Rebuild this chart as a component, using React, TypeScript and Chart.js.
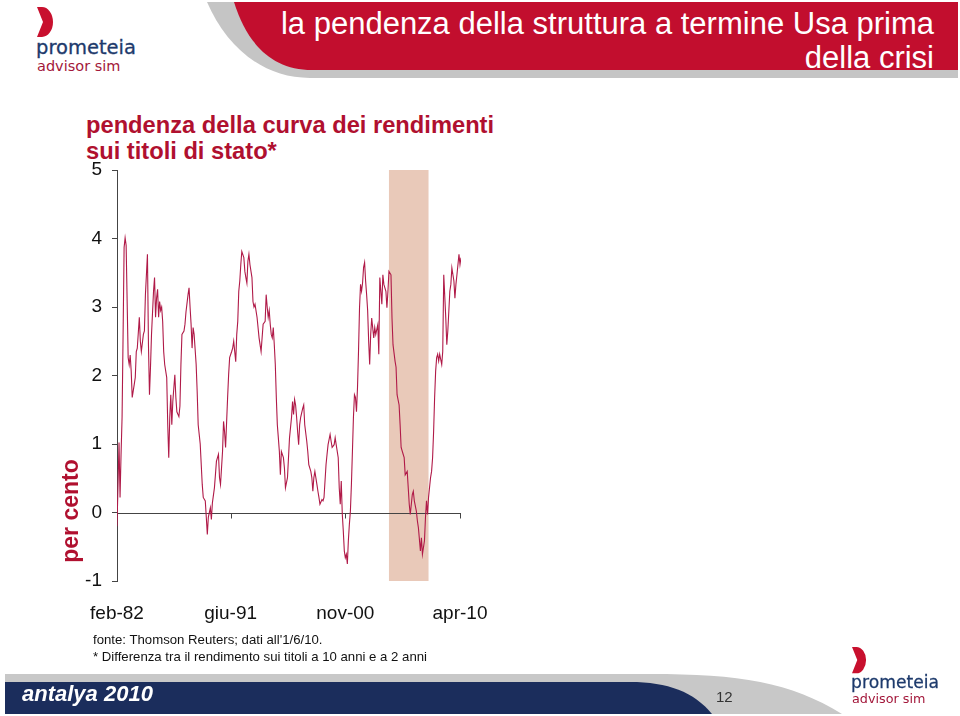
import React, { useEffect, useRef } from "react";
import { Chart, registerables } from "chart.js";

Chart.register(...registerables);

// Months elapsed since February 1982 (x) and the 10y-2y US Treasury spread, % (y)
const monthsSinceFeb82 = [
  0, 2, 3, 4, 5, 6, 7, 8, 9, 11, 12, 13, 14, 15, 17, 18, 19, 20, 22, 23, 24, 26, 27, 28, 30, 31, 32, 33, 34, 36,
  37, 38, 39, 40, 41, 42, 43, 44, 45, 46, 47, 49, 50, 51, 52, 53, 54, 55, 57, 58, 59, 61, 62, 63, 64, 66, 67, 68, 70, 71,
  72, 73, 74, 75, 76, 78, 79, 80, 82, 84, 85, 87, 88, 89, 90, 92, 93, 94, 96, 97, 98, 100, 101, 102, 104, 105, 106, 107, 109, 110,
  111, 113, 114, 115, 116, 117, 118, 119, 120, 121, 122, 123, 125, 126, 127, 128, 129, 130, 131, 133, 134, 135, 136, 138, 139, 140, 142, 143, 144, 146,
  147, 148, 149, 150, 151, 152, 153, 154, 155, 156, 157, 158, 159, 160, 161, 162, 164, 165, 166, 168, 169, 170, 172, 173, 174, 175, 176, 177, 178, 179,
  180, 181, 183, 184, 185, 187, 188, 189, 191, 192, 193, 194, 195, 197, 198, 199, 200, 202, 203, 204, 206, 207, 208, 210, 211, 212, 214, 215, 216, 218,
  219, 220, 221, 222, 223, 224, 225, 226, 227, 228, 229, 230, 231, 232, 233, 234, 235, 236, 237, 238, 239, 240, 241, 242, 243, 244, 245, 246, 247, 248,
  249, 250, 251, 253, 254, 255, 257, 258, 259, 261, 262, 263, 265, 266, 267, 268, 270, 271, 272, 274, 275, 276, 278, 279, 280, 282, 283, 284, 286, 287,
  288, 289, 291, 292, 293, 295, 296, 297, 299, 300, 301, 303, 304, 305, 306, 307, 309, 310, 311, 312, 313, 314, 315, 316, 317, 318, 320, 321, 322, 324,
  325, 326, 328, 329, 330, 332, 333, 334, 335, 337, 338, 339,
];

const spreadValues = [
  -0.2, 1.02, 0.22, 0.85, 1.39, 2.6, 3.87, 4.01, 3.9, 2.26, 2.16, 2.3, 2.06, 1.68, 1.87, 1.97, 2.35, 2.4, 2.85, 2.5, 2.35, 2.6, 2.65, 3.18, 3.77, 2.45, 1.72, 2.12, 2.6, 3.23,
  3.43, 2.85, 3.13, 3.26, 2.85, 3.08, 2.95, 3.0, 2.79, 2.35, 2.16, 1.97, 1.28, 0.8, 1.39, 1.72, 1.28, 1.62, 2.01, 1.68, 1.47, 1.4, 1.55, 2.16, 2.6, 2.65, 2.75, 2.93, 3.18, 3.28,
  3.0, 2.75, 2.4, 2.7, 2.6, 2.16, 1.77, 1.28, 1.0, 0.41, 0.22, 0.17, -0.07, -0.32, -0.07, 0.07, -0.1, 0.14, 0.36, 0.55, 0.75, 0.85, 0.51, 0.41, 0.89, 1.33, 1.18, 0.95, 1.68, 2.01,
  2.26, 2.35, 2.4, 2.5, 2.35, 2.2, 2.6, 2.79, 3.23, 3.38, 3.62, 3.81, 3.72, 3.52, 3.43, 3.35, 3.67, 3.77, 3.62, 3.43, 3.08, 3.0, 3.04, 2.85, 2.7, 2.55, 2.35, 2.55, 2.75, 2.79,
  3.18, 3.0, 2.85, 2.95, 2.75, 2.6, 2.55, 2.7, 2.45, 2.16, 1.68, 1.28, 1.09, 0.89, 0.55, 0.89, 0.8, 0.65, 0.36, 0.51, 0.8, 1.09, 1.39, 1.62, 1.43, 1.65, 1.57, 1.39, 1.18, 0.99,
  1.28, 1.39, 1.52, 1.57, 1.28, 1.04, 0.89, 0.7, 0.6, 0.51, 0.31, 0.51, 0.6, 0.41, 0.31, 0.22, 0.12, 0.19, 0.17, 0.22, 0.7, 0.85, 0.99, 1.14, 1.04, 0.95, 0.99, 1.09, 0.99, 0.8,
  0.36, 0.12, 0.46, -0.02, -0.27, -0.56, -0.66, -0.61, -0.75, -0.41, -0.17, 0.02, 0.41, 0.89, 1.39, 1.72, 1.68, 1.47, 1.82, 2.35, 2.99, 3.33, 3.23, 3.35, 3.58, 3.65, 3.38, 3.18, 2.95, 2.5,
  2.16, 2.6, 2.84, 2.55, 2.7, 2.6, 2.74, 2.31, 3.43, 3.04, 3.47, 3.33, 3.23, 2.99, 3.23, 3.52, 3.47, 2.84, 2.45, 2.21, 2.12, 1.72, 1.57, 1.28, 0.95, 0.85, 0.8, 0.55, 0.6, 0.36,
  0.12, -0.03, 0.26, 0.31, 0.17, 0.02, -0.12, -0.22, -0.56, -0.37, -0.61, -0.41, -0.07, 0.17, -0.03, 0.22, 0.51, 0.6, 0.8, 1.18, 1.68, 2.06, 2.26, 2.31, 2.21, 2.31, 2.16, 2.35, 3.47, 2.84,
  2.45, 2.65, 3.23, 3.33, 3.57, 3.38, 3.13, 3.33, 3.47, 3.77, 3.62, 3.72,
];

const tickMonths = [0, 112, 225, 338];
const tickLabels = ["feb-82", "giu-91", "nov-00", "apr-10"];
const shadedPeriod = [268, 307]; // giu-04 .. set-07
const yMin = -1;
const yMax = 5;
const xMax = 339;

const FONT = "'Liberation Sans', Arial, Helvetica, sans-serif";

const shadePlugin = {
  id: "shadeAndZero",
  beforeDatasetsDraw(chart: any) {
    const { ctx } = chart;
    const x = chart.scales.x;
    const y = chart.scales.y;
    const x0 = x.getPixelForValue(shadedPeriod[0]);
    const x1 = x.getPixelForValue(shadedPeriod[1]);
    const top = y.getPixelForValue(yMax);
    const bot = y.getPixelForValue(yMin);
    ctx.save();
    ctx.fillStyle = "#e9c9b9";
    ctx.fillRect(x0, top, x1 - x0, bot - top);
    const y0 = Math.round(y.getPixelForValue(0)) + 0.5;
    ctx.strokeStyle = "#444";
    ctx.lineWidth = 1;
    ctx.beginPath();
    ctx.moveTo(x.left, y0);
    ctx.lineTo(x.right, y0);
    x.ticks.forEach((t: any) => {
      const px = Math.round(x.getPixelForValue(t.value)) + 0.5;
      ctx.moveTo(px, y0);
      ctx.lineTo(px, y0 + 5);
    });
    ctx.stroke();
    ctx.restore();
  },
};

function SpreadChart() {
  const ref = useRef<HTMLCanvasElement | null>(null);
  useEffect(() => {
    if (!ref.current) return;
    const points = monthsSinceFeb82.map((m, i) => ({ x: m, y: spreadValues[i] }));
    const chart = new Chart(ref.current, {
      type: "line",
      data: {
        datasets: [
          {
            data: points,
            borderColor: "#b01a48",
            borderWidth: 1.1,
            pointRadius: 0,
            tension: 0,
            fill: false,
          },
        ],
      },
      options: {
        animation: false,
        responsive: false,
        devicePixelRatio: 1,
        layout: { padding: { top: 20, right: 39, left: 0, bottom: 0 } },
        plugins: { legend: { display: false }, tooltip: { enabled: false } },
        scales: {
          x: {
            type: "linear",
            min: 0,
            max: xMax,
            position: "bottom",
            grid: { display: false },
            border: { display: false },
            afterBuildTicks: (s: any) => {
              s.ticks = tickMonths.map((v) => ({ value: v }));
            },
            afterFit: (s: any) => {
              s.height = 59;
              s.paddingLeft = 0;
              s.paddingRight = 0;
            },
            ticks: {
              autoSkip: false,
              maxRotation: 0,
              padding: 13,
              color: "#111",
              font: { family: FONT, size: 19 },
              callback: (v: any) => {
                const i = tickMonths.indexOf(Number(v));
                return i >= 0 ? tickLabels[i] : "";
              },
            },
          },
          y: {
            min: yMin,
            max: yMax,
            afterFit: (s: any) => {
              s.width = 77;
              s.paddingTop = 0;
              s.paddingBottom = 0;
            },
            grid: { display: true, drawOnChartArea: false, drawTicks: true, tickLength: 5, color: "#444" },
            border: { display: true, color: "#444", width: 1 },
            ticks: {
              stepSize: 1,
              padding: 10,
              color: "#111",
              font: { family: FONT, size: 19 },
            },
          },
        },
      },
      plugins: [shadePlugin],
    });
    return () => chart.destroy();
  }, []);
  return (
    <canvas
      ref={ref}
      width={460}
      height={490}
      style={{ position: "absolute", left: 40, top: 150, width: 460, height: 490 }}
    />
  );
}

function Logo({ left, top, scale }: { left: number; top: number; scale: number }) {
  return (
    <div style={{ position: "absolute", left, top, width: 110, height: 70, transform: `scale(${scale})`, transformOrigin: "0 0" }}>
      <svg width={20} height={32} style={{ position: "absolute", left: 0, top: 0 }}>
        <path d="M0 1 L5 1 A 11 15 0 0 1 5 31 L0 31 L6 16 Z" fill="#c8102e" />
      </svg>
      <div
        style={{
          position: "absolute",
          left: -1,
          top: 32,
          fontFamily: "'DejaVu Sans', sans-serif",
          fontSize: 19.5,
          lineHeight: "20px",
          color: "#1d3a6c",
          whiteSpace: "nowrap",
          WebkitTextStroke: "0.3px #1d3a6c",
        }}
      >
        prometeia
      </div>
      <div
        style={{
          position: "absolute",
          left: 0,
          top: 52,
          fontFamily: "'DejaVu Sans', sans-serif",
          fontSize: 14.5,
          lineHeight: "16px",
          color: "#a3173a",
          whiteSpace: "nowrap",
        }}
      >
        advisor sim
      </div>
    </div>
  );
}

export default function App() {
  return (
    <div
      style={{
        position: "absolute",
        left: 0,
        top: 0,
        width: 960,
        height: 716,
        overflow: "hidden",
        background: "#fff",
        fontFamily: FONT,
      }}
    >
      {/* header band */}
      <svg width={960} height={80} style={{ position: "absolute", left: 0, top: 0 }}>
        <path d="M207 2 L958 2 L958 78 L310 78 C262 78 226 46 207 2 Z" fill="#c5c5c5" />
        <path d="M234 2 L958 2 L958 70 L312 70 C272 70 247 44 234 2 Z" fill="#c20e2e" />
      </svg>
      <div
        style={{
          position: "absolute",
          right: 26,
          top: 7,
          textAlign: "right",
          color: "#fff",
          fontSize: 31,
          lineHeight: "34px",
          whiteSpace: "nowrap",
        }}
      >
        la pendenza della struttura a termine Usa prima
        <br />
        della crisi
      </div>

      <Logo left={37} top={6} scale={1} />

      {/* subtitle */}
      <div
        style={{
          position: "absolute",
          left: 86,
          top: 112,
          color: "#b0102f",
          fontWeight: "bold",
          fontSize: 23.7,
          lineHeight: "26px",
          whiteSpace: "nowrap",
        }}
      >
        pendenza della curva dei rendimenti
        <br />
        sui titoli di stato*
      </div>

      <SpreadChart />

      {/* vertical axis title */}
      <div
        style={{
          position: "absolute",
          left: 10,
          top: 497,
          width: 120,
          height: 28,
          lineHeight: "28px",
          textAlign: "center",
          color: "#b0102f",
          fontWeight: "bold",
          fontSize: 23,
          transform: "rotate(-90deg)",
          transformOrigin: "50% 50%",
          whiteSpace: "nowrap",
        }}
      >
        per cento
      </div>

      {/* notes */}
      <div
        style={{
          position: "absolute",
          left: 93,
          top: 631,
          color: "#111",
          fontSize: 13.2,
          lineHeight: "17px",
          whiteSpace: "nowrap",
        }}
      >
        fonte: Thomson Reuters; dati all'1/6/10.
        <br />* Differenza tra il rendimento sui titoli a 10 anni e a 2 anni
      </div>

      {/* footer band */}
      <svg width={960} height={60} style={{ position: "absolute", left: 0, top: 660 }}>
        <path d="M5 14 L650 14 C740 14 790 22 842 54 L5 54 Z" fill="#c8c8c8" />
        <path d="M5 22 L630 22 C668 22 694 32 712 54 L5 54 Z" fill="#1b2d5c" />
      </svg>
      <div
        style={{
          position: "absolute",
          left: 22,
          top: 681,
          color: "#fff",
          fontWeight: "bold",
          fontStyle: "italic",
          fontSize: 22,
          lineHeight: "26px",
          whiteSpace: "nowrap",
        }}
      >
        antalya 2010
      </div>
      <div
        style={{
          position: "absolute",
          left: 716,
          top: 688,
          color: "#333",
          fontSize: 15,
          lineHeight: "18px",
        }}
      >
        12
      </div>

      <Logo left={852} top={646} scale={0.88} />
    </div>
  );
}
